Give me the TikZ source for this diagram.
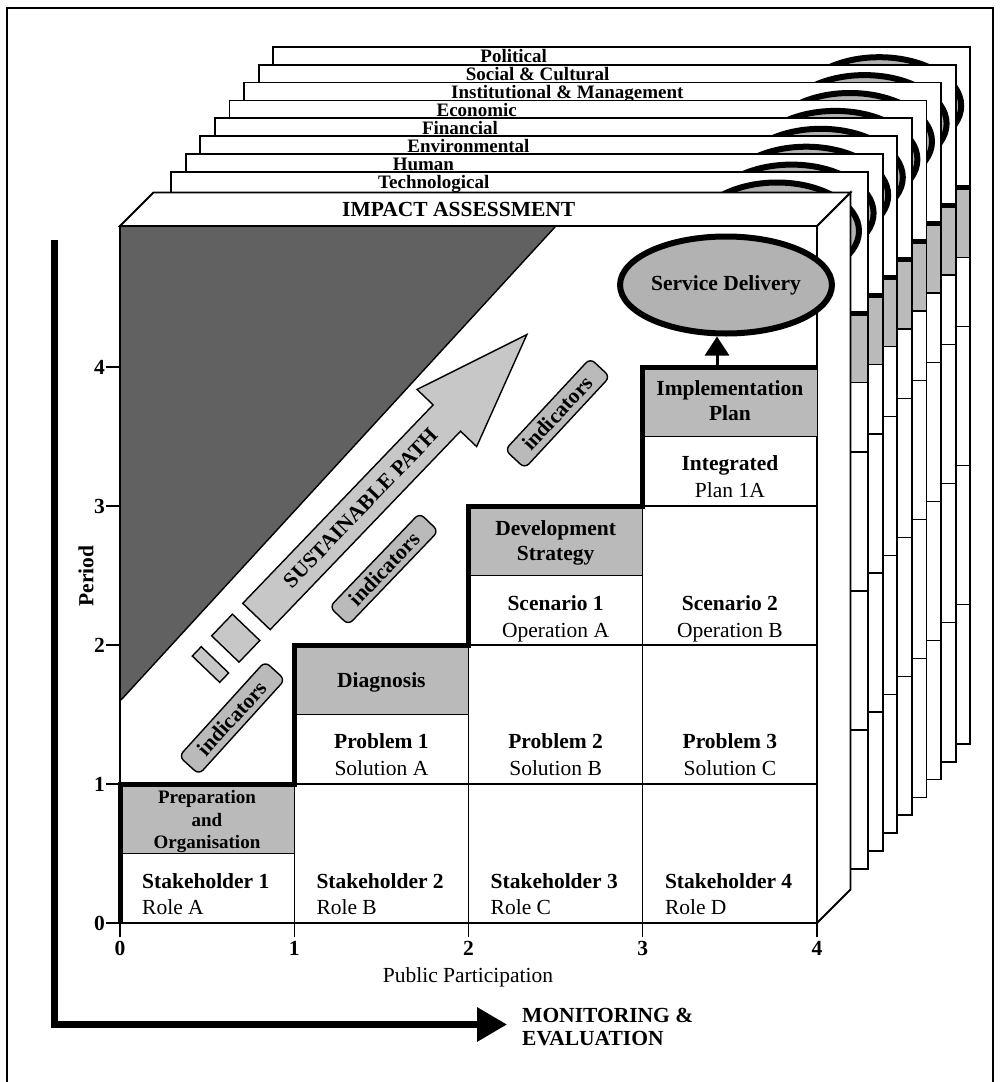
\documentclass[tikz,border=0pt]{standalone}
\usepackage{fontspec}
\setmainfont{Liberation Serif}
\usetikzlibrary{arrows.meta,shapes.geometric}

\newcommand\txtbig{\fontsize{21.5}{23}\selectfont}
\newcommand\txtmid{\fontsize{19}{22}\selectfont}

\tikzset{
  frameline/.style={line width=1.8pt},
  faceline/.style={line width=1.8pt},
  gridline/.style={line width=1.4pt},
  stairline/.style={line width=5pt},
  cellshade/.style={fill=black!27},
  darkshade/.style={fill=black!62},
  sdellipse/.style={draw, line width=6pt, fill=black!30},
  bold label/.style={font=\txtbig\bfseries, inner sep=0pt},
  plain label/.style={font=\txtbig, inner sep=0pt},
  mid label/.style={font=\txtmid\bfseries, inner sep=0pt},
  layerlabel/.style={font=\txtmid\bfseries, inner sep=0pt, anchor=base west},
  indicbox/.style={draw, line width=1.4pt, fill=black!27, rounded corners=6pt,
    minimum width=128pt, minimum height=27pt, inner sep=0pt, font=\txtbig\bfseries},
  pathpiece/.style={draw, line width=1.4pt, fill=black!22},
}

\begin{document}
\begin{tikzpicture}[x=1pt, y=-1pt]
\useasboundingbox (0,0) rectangle (1001,1082);

% outer frame
\draw[frameline] (7,1082) -- (7,8) -- (993,8) -- (993,1082);

% stacked assessment layers, back to front
\foreach \k/\lab in {7/Political, 6/Social \& Cultural, 5/Institutional \& Management,
    4/Economic, 3/Financial, 2/Environmental, 1/Human, 0/Technological}{
  \pgfmathsetmacro\lx{171+14.6*\k}
  \pgfmathsetmacro\ly{172-17.9*\k}
  \begin{scope}[shift={(\lx,\ly)}]
    \fill[white] (0,0) rectangle (697,697);
    \fill[cellshade] (523.5,141) rectangle (697,210.5);
    \draw[gridline] (523.5,210.5) -- (697,210.5) (523.5,280) -- (697,280)
      (523.5,419) -- (697,419) (523.5,558) -- (697,558);
    \draw[stairline] (523.5,141) -- (697,141);
    \draw[sdellipse] (606,59) ellipse [x radius=82, y radius=48.5];
    \draw[faceline] (0,0) rectangle (697,697);
    \node[layerlabel] (layer\k) at (207,16) {\lab};
  \end{scope}
}

% impact assessment box
\draw[faceline, fill=white] (817,226) -- (850.5,192.5) -- (850.5,889.5) -- (817,923) -- cycle;
\draw[faceline, fill=white] (120,226) -- (153.5,192.5) -- (850.5,192.5) -- (817,226) -- cycle;
\draw[faceline, fill=white] (120,226) rectangle (817,923);
\node[bold label, anchor=base west] (impact) at (342,216.5) {IMPACT ASSESSMENT};

% unsustainable zone
\fill[darkshade] (121,227) -- (555,227) -- (121,700) -- cycle;
\draw[gridline] (555,227) -- (121,700);

% shaded stage cells
\fill[cellshade] (120,784) rectangle (294.25,853.5);
\fill[cellshade] (294.25,645) rectangle (468.5,714.5);
\fill[cellshade] (468.5,506) rectangle (642.75,575.5);
\fill[cellshade] (642.75,367) rectangle (817,436.5);

% grid
\draw[gridline]
  (120,853.5) -- (294.25,853.5)
  (294.25,714.5) -- (468.5,714.5)
  (468.5,575.5) -- (642.75,575.5)
  (642.75,436.5) -- (817,436.5)
  (294.25,784) -- (817,784)
  (468.5,645) -- (817,645)
  (642.75,506) -- (817,506)
  (294.25,784) -- (294.25,923)
  (468.5,645) -- (468.5,923)
  (642.75,506) -- (642.75,923);

% staircase
\draw[stairline] (120,923) -- (120,784) -- (294.25,784) -- (294.25,645) -- (468.5,645)
  -- (468.5,506) -- (642.75,506) -- (642.75,367) -- (817,367);

% axes ticks and labels
\foreach \v/\yy in {0/923, 1/784, 2/645, 3/506, 4/367}{
  \draw[gridline] (106,\yy) -- (120,\yy);
  \node[bold label, anchor=east] (yl\v) at (105,\yy) {\v};
}
\foreach \v/\xx in {0/120, 1/294.25, 2/468.5, 3/642.75, 4/817}{
  \draw[gridline] (\xx,923) -- (\xx,937);
  \node[bold label, anchor=north] (xl\v) at (\xx,941) {\v};
}
\node[bold label, rotate=90] (period) at (86,576) {Period};
\node[plain label, anchor=base] (pp) at (468,982) {Public Participation};

% cell texts
\node[mid label, anchor=base] (prep1) at (207,803) {Preparation};
\node[mid label, anchor=base] (prep2) at (207,826) {and};
\node[mid label, anchor=base] (prep3) at (207,848) {Organisation};

\node[bold label, anchor=base west] (sh1) at (142,888) {Stakeholder 1};
\node[plain label, anchor=base west] (ro1) at (142,914) {Role A};
\node[bold label, anchor=base west] (sh2) at (316.3,888) {Stakeholder 2};
\node[plain label, anchor=base west] (ro2) at (316.3,914) {Role B};
\node[bold label, anchor=base west] (sh3) at (490.5,888) {Stakeholder 3};
\node[plain label, anchor=base west] (ro3) at (490.5,914) {Role C};
\node[bold label, anchor=base west] (sh4) at (664.8,888) {Stakeholder 4};
\node[plain label, anchor=base west] (ro4) at (664.8,914) {Role D};

\node[bold label, anchor=base] (diag) at (381.4,687) {Diagnosis};
\node[bold label, anchor=base] (pr1) at (381.4,748) {Problem 1};
\node[plain label, anchor=base] (so1) at (381.4,775) {Solution A};
\node[bold label, anchor=base] (pr2) at (555.6,748) {Problem 2};
\node[plain label, anchor=base] (so2) at (555.6,775) {Solution B};
\node[bold label, anchor=base] (pr3) at (729.9,748) {Problem 3};
\node[plain label, anchor=base] (so3) at (729.9,775) {Solution C};

\node[bold label, anchor=base] (dev1) at (555.6,535) {Development};
\node[bold label, anchor=base] (dev2) at (555.6,560) {Strategy};
\node[bold label, anchor=base] (sc1) at (555.6,610) {Scenario 1};
\node[plain label, anchor=base] (op1) at (555.6,637) {Operation A};
\node[bold label, anchor=base] (sc2) at (729.9,610) {Scenario 2};
\node[plain label, anchor=base] (op2) at (729.9,637) {Operation B};
\node[bold label, anchor=base] (int1) at (729.9,470) {Integrated};
\node[plain label, anchor=base] (int2) at (729.9,497) {Plan 1A};
\node[bold label, anchor=base] (imp1) at (729.9,395) {Implementation};
\node[bold label, anchor=base] (imp2) at (729.9,420) {Plan};

% service delivery
\node[sdellipse, ellipse, minimum width=164pt, minimum height=97pt, inner sep=0pt,
  font=\txtbig\bfseries] (sd) at (726,285) {Service Delivery};
\coordinate (implfoot) at (717,364.5);
\draw[line width=3pt, -{Triangle[length=19pt,width=24pt]}] (implfoot) -- (implfoot |- sd.south);

% sustainable path arrow
\begin{scope}[shift={(256.5,616.5)}, rotate=46.2]
  \draw[pathpiece] (0,-19) -- (275,-19) -- (275,-41.3) -- (390.6,0) -- (275,41.3)
    -- (275,19) -- (0,19) -- cycle;
  \draw[pathpiece] (-45,-19) rectangle (-15,19);
  \draw[pathpiece] (-73,-19) rectangle (-60,19);
  \node[bold label, rotate=46.2] (sustpath) at (150,0) {SUSTAINABLE PATH};
\end{scope}

% indicators
\node[indicbox, rotate=47.8] (ind1) at (232,718) {indicators};
\node[indicbox, rotate=46.2, minimum width=130pt, minimum height=26pt] (ind2) at (384,569) {indicators};
\node[indicbox, rotate=47.1, minimum width=125pt] (ind3) at (557.5,413.3) {indicators};

% monitoring and evaluation
\coordinate (mtop) at (54.5,240);
\coordinate (mcorner) at (54.5,1024.5);
\coordinate (mtip) at (507,1024.5);
\draw[line width=6.5pt, -{Triangle[length=30pt,width=33pt]}] (mtop) -- (mcorner) -- (mtip);
\node[font=\fontsize{21.5}{23}\selectfont\bfseries, inner sep=0pt, anchor=north west,
  align=left] (me) at (522,1007.5) {MONITORING \&\\EVALUATION};
\end{tikzpicture}
\end{document}
